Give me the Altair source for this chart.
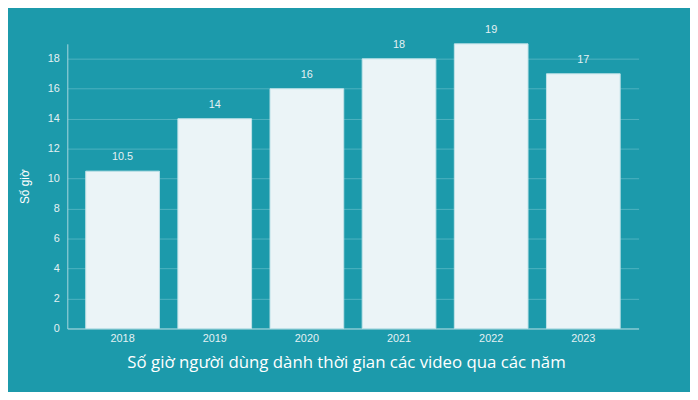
import altair as alt
import pandas as pd

years = ["2018", "2019", "2020", "2021", "2022", "2023"]
hours = [10.5, 14, 16, 18, 19, 17]
labels = ["10.5", "14", "16", "18", "19", "17"]
y_ticks = [0, 2, 4, 6, 8, 10, 12, 14, 16, 18]

df = pd.DataFrame({"year": years, "hours": hours, "label": labels})

BG = "#1c9aab"
BAR = "#ebf4f7"
TXT = "#e4f1f4"

x = alt.X("year:N", sort=years,
          scale=alt.Scale(paddingInner=0.2, paddingOuter=0.2),
          axis=alt.Axis(title="Số giờ người dùng dành thời gian các video qua các năm",
                        labelAngle=0, labelFont="Liberation Sans", labelFontSize=11,
                        labelColor=TXT, labelPadding=4, ticks=False,
                        domainColor="#a9d8e0", titleFont="Open Sans", titleFontSize=17,
                        titleFontWeight="normal", titleColor="#ffffff", titlePadding=11,
                        titleX=282, grid=False))
y = alt.Y("hours:Q", scale=alt.Scale(domain=[0, 19], nice=False),
          axis=alt.Axis(title="Số giờ", values=y_ticks, tickCount=10, labelOverlap=False,
                        labelFont="Liberation Sans", labelFontSize=11, labelColor=TXT,
                        labelPadding=8, ticks=False, domainColor="#a9d8e0",
                        gridColor="#4fb2c0", gridWidth=1,
                        titleFont="Liberation Sans", titleFontSize=12,
                        titleFontWeight="normal", titleColor="#ffffff", titlePadding=16))

bars = alt.Chart(df).mark_bar(color=BAR, stroke="#bfe2e8", strokeWidth=1).encode(x=x, y=y)
text = alt.Chart(df).mark_text(baseline="bottom", dy=-9, font="Liberation Sans",
                               fontSize=11, color=TXT).encode(x=x, y=y, text="label:N")

chart = (bars + text).properties(
    width=578, height=288, background=BG,
    padding={"left": 60, "top": 34, "right": 52, "bottom": 62},
    autosize=alt.AutoSizeParams(type="none"),
).configure_view(stroke=None)

chart.save("out.html", embed_options={"renderer": "svg", "actions": False})
